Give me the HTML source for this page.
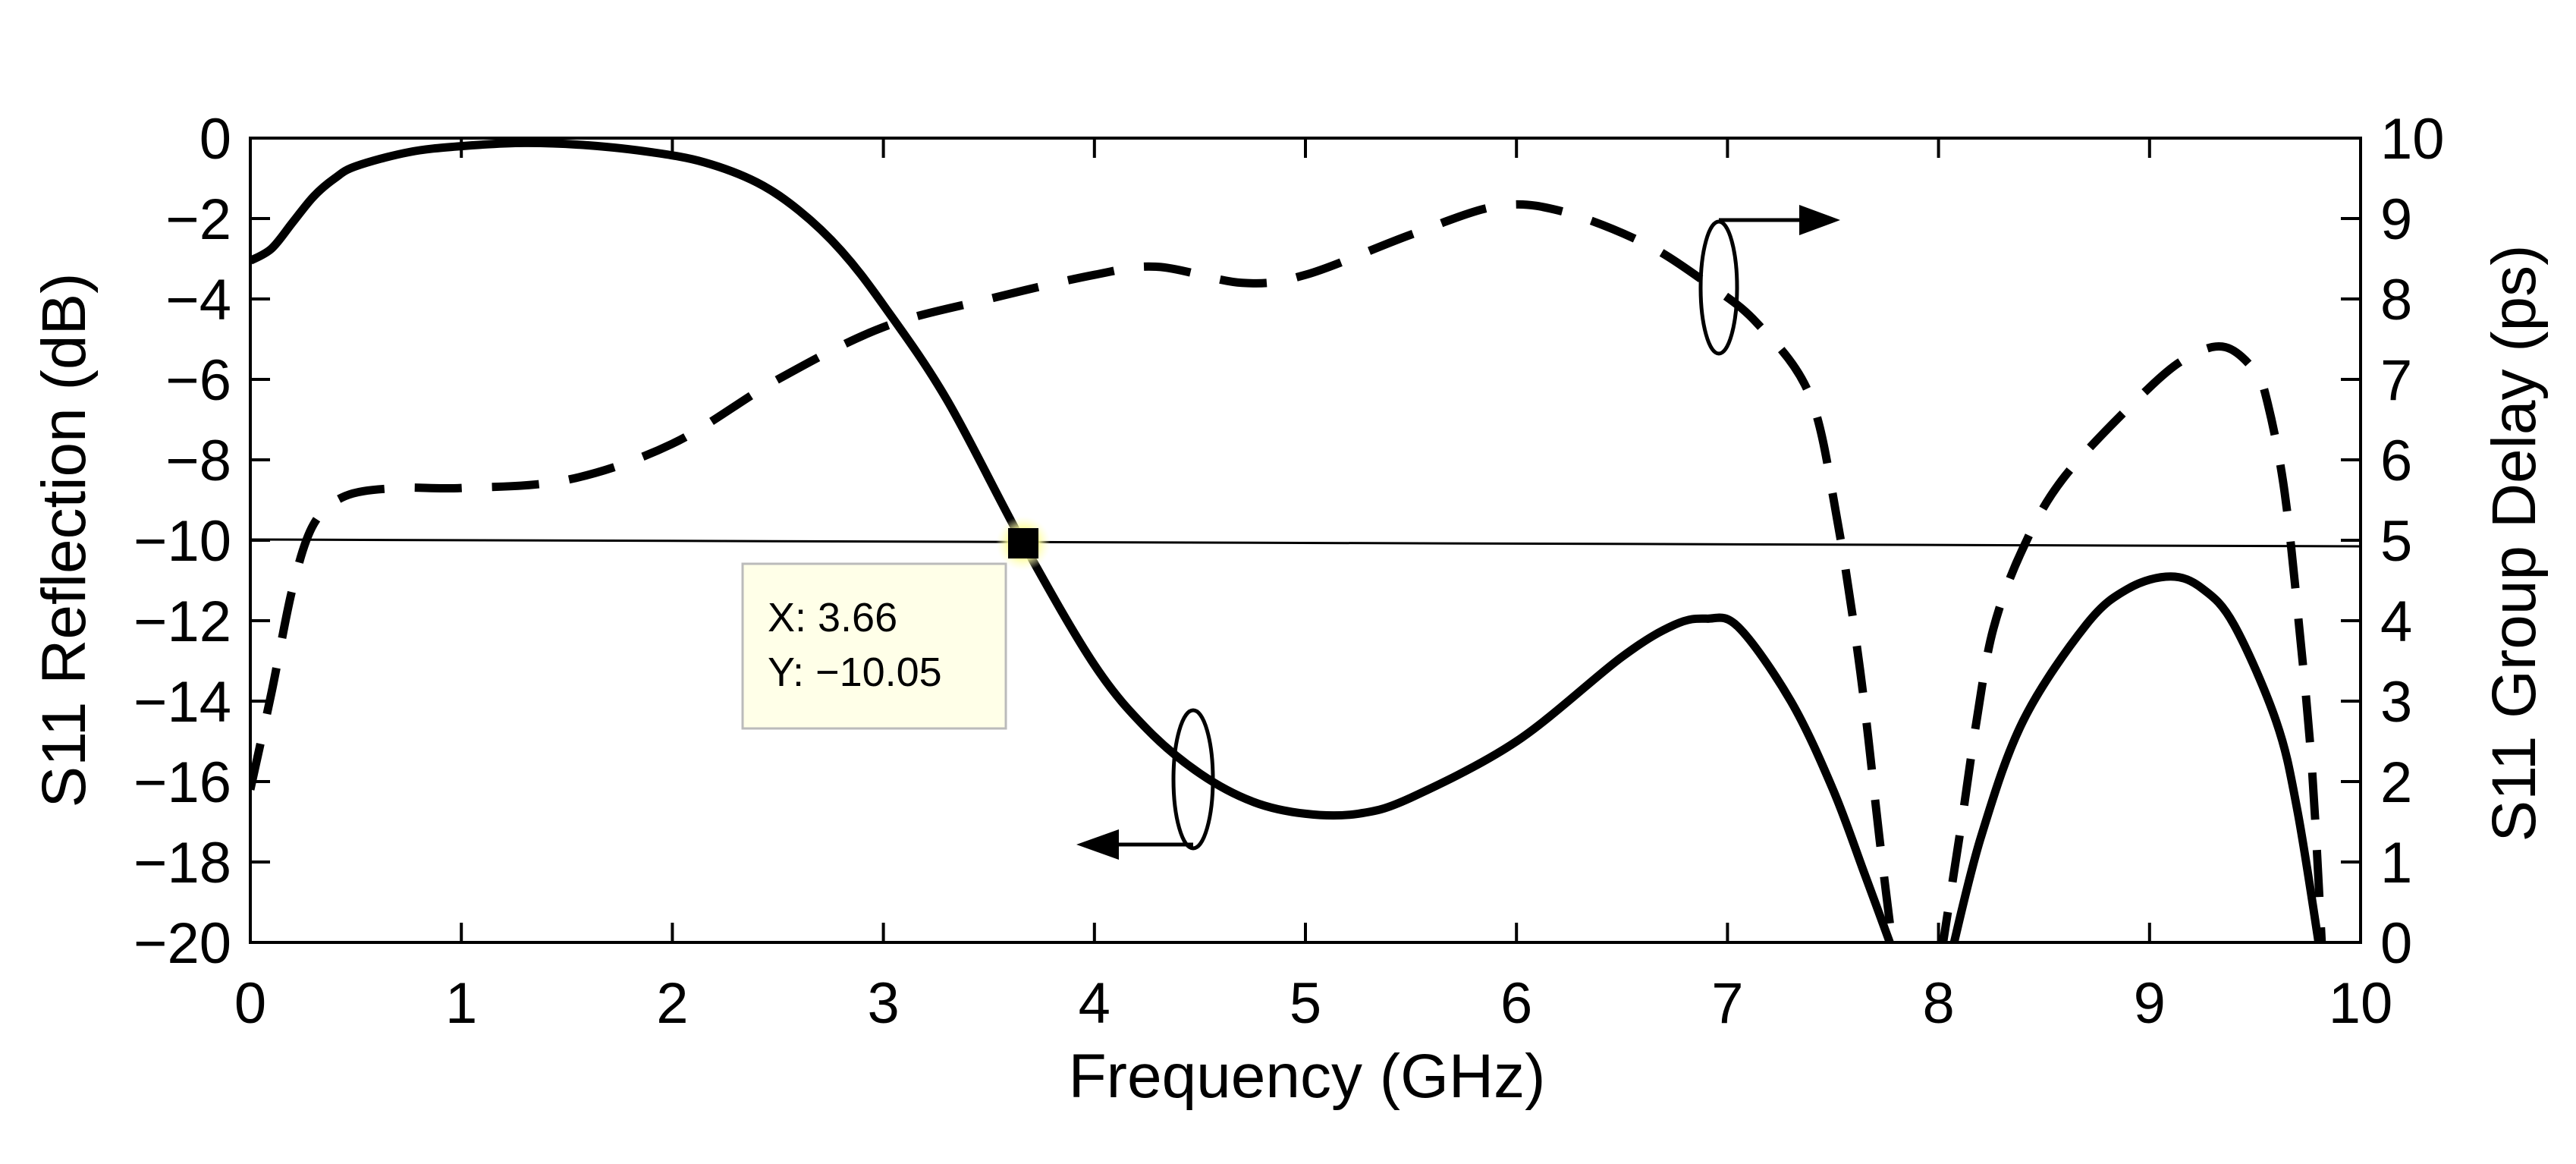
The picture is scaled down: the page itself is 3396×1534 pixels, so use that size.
<!DOCTYPE html>
<html><head><meta charset="utf-8"><style>
html,body{margin:0;padding:0;background:#fff;}
svg{display:block;font-family:"Liberation Sans",Arial,sans-serif;}
</style></head><body>
<svg id="s" width="3396" height="1534" viewBox="0 0 3396 1534" xmlns="http://www.w3.org/2000/svg">
<defs><clipPath id="c"><rect x="330" y="182" width="2782" height="1062"/></clipPath>
<radialGradient id="g"><stop offset="0.5" stop-color="#ffff90"/><stop offset="1" stop-color="#ffffd0" stop-opacity="0"/></radialGradient></defs>
<rect x="330" y="182" width="2782" height="1060" fill="none" stroke="#000" stroke-width="4"/>
<g id="ticks" stroke="#000" stroke-width="4"></g>
<g font-size="76" fill="#000" id="lbl"></g>
<text x="1723" y="1446" font-size="82" text-anchor="middle">Frequency (GHz)</text>
<text transform="translate(112,712) rotate(-90)" font-size="82" text-anchor="middle">S11 Reflection (dB)</text>
<text transform="translate(3342,716) rotate(-90)" font-size="82" text-anchor="middle">S11 Group Delay (ps)</text>
<line x1="330" y1="711" x2="3112" y2="720" stroke="#000" stroke-width="3"/>
<g clip-path="url(#c)" fill="none" stroke="#000" stroke-width="11" stroke-linejoin="round">
<path id="p1"/><path id="p2"/>
<path id="d1" stroke-dasharray="62 40"/><path id="d2" stroke-dasharray="62 40"/>
</g>
<rect x="979" y="743" width="347" height="217" fill="#ffffe8" stroke="#bbb" stroke-width="3"/>
<text x="1012" y="832" font-size="54">X: 3.66</text>
<text x="1012" y="904" font-size="54">Y: −10.05</text>
<circle cx="1349" cy="716" r="36" fill="url(#g)"/>
<rect x="1329" y="696" width="40" height="40" fill="#000"/>
<g fill="none" stroke="#000" stroke-width="5">
<ellipse cx="1573" cy="1027" rx="26" ry="91"/>
<line x1="1573" y1="1113" x2="1470" y2="1113"/>
<ellipse cx="2266" cy="379" rx="24" ry="87"/>
<line x1="2266" y1="290" x2="2380" y2="290"/>
</g>
<polygon points="1419,1113 1475,1093 1475,1133" fill="#000"/>
<polygon points="2426,290 2372,270 2372,310" fill="#000"/>
</svg>
<script>
var X=f=>330+278.2*f, YS=d=>182-53*d, YD=p=>1242-106*p;
function path(pts){var s='M'+pts[0][0]+','+pts[0][1];
for(var i=0;i<pts.length-1;i++){var p0=pts[Math.max(i-1,0)],p1=pts[i],p2=pts[i+1],p3=pts[Math.min(i+2,pts.length-1)];
s+=' C'+(p1[0]+(p2[0]-p0[0])/6).toFixed(1)+','+(p1[1]+(p2[1]-p0[1])/6).toFixed(1)+' '+(p2[0]-(p3[0]-p1[0])/6).toFixed(1)+','+(p2[1]-(p3[1]-p1[1])/6).toFixed(1)+' '+p2[0].toFixed(1)+','+p2[1].toFixed(1);}
return s;}
function S(a){return a.map(q=>[X(q[0]),YS(q[1])]);} function D(a){return a.map(q=>[X(q[0]),YD(q[1])]);}
document.getElementById('p1').setAttribute('d',path(S([[0,-3.05],[0.1,-2.75],[0.2,-2.1],[0.3,-1.45],[0.4,-1.0],[0.5,-0.7],[0.75,-0.35],[1,-0.2],[1.3,-0.12],[1.6,-0.18],[1.9,-0.35],[2.15,-0.6],[2.4,-1.1],[2.6,-1.8],[2.8,-2.8],[3,-4.15],[3.3,-6.5],[3.66,-10.05],[4,-13.1],[4.25,-14.7],[4.5,-15.8],[4.75,-16.5],[5,-16.8],[5.25,-16.8],[5.5,-16.4],[6,-15],[6.5,-12.9],[6.75,-12.1],[6.9,-11.95],[7.05,-12.15],[7.3,-14],[7.5,-16.2],[7.65,-18.3],[7.79,-20.3]])));
document.getElementById('p2').setAttribute('d',path(S([[8.06,-20.3],[8.2,-17.4],[8.4,-14.5],[8.7,-12.1],[8.9,-11.2],[9.1,-10.9],[9.25,-11.2],[9.4,-12.1],[9.6,-14.5],[9.7,-16.7],[9.81,-20.3]])));
document.getElementById('d1').setAttribute('d',path(D([[0,1.9],[0.1,3.1],[0.2,4.4],[0.3,5.2],[0.45,5.55],[0.7,5.65],[1,5.65],[1.5,5.75],[2,6.2],[2.5,7.0],[3,7.65],[3.5,8.0],[4,8.3],[4.3,8.4],[4.7,8.2],[5,8.3],[5.5,8.8],[5.9,9.15],[6.2,9.1],[6.6,8.7],[6.9,8.2],[7.14,7.7],[7.39,6.8],[7.52,5.25],[7.63,3.35],[7.72,1.3],[7.79,-0.2]])));
document.getElementById('d2').setAttribute('d',path(D([[8.01,-0.2],[8.11,1.5],[8.18,2.75],[8.26,3.9],[8.4,4.9],[8.6,5.8],[9.0,6.9],[9.2,7.3],[9.36,7.4],[9.5,7.1],[9.56,6.7],[9.64,5.6],[9.71,3.9],[9.77,2.15],[9.82,-0.2]])));
var t='',l='';
for(var i=0;i<=10;i++){var x=X(i);t+='<line x1="'+x+'" y1="1242" x2="'+x+'" y2="1216"/><line x1="'+x+'" y1="182" x2="'+x+'" y2="208"/>';
l+='<text x="'+x+'" y="1348" text-anchor="middle">'+i+'</text>';
var y=YD(i);t+='<line x1="3112" y1="'+y+'" x2="3086" y2="'+y+'"/>';
l+='<text x="3138" y="'+(y+27)+'">'+i+'</text>';}
for(var d=0;d>=-20;d-=2){var y=YS(d);t+='<line x1="330" y1="'+y+'" x2="356" y2="'+y+'"/>';
l+='<text x="305" y="'+(y+27)+'" text-anchor="end">'+(d<0?'\u2212'+(-d):d)+'</text>';}
document.getElementById('ticks').innerHTML=t;document.getElementById('lbl').innerHTML=l;
</script>
</body></html>
